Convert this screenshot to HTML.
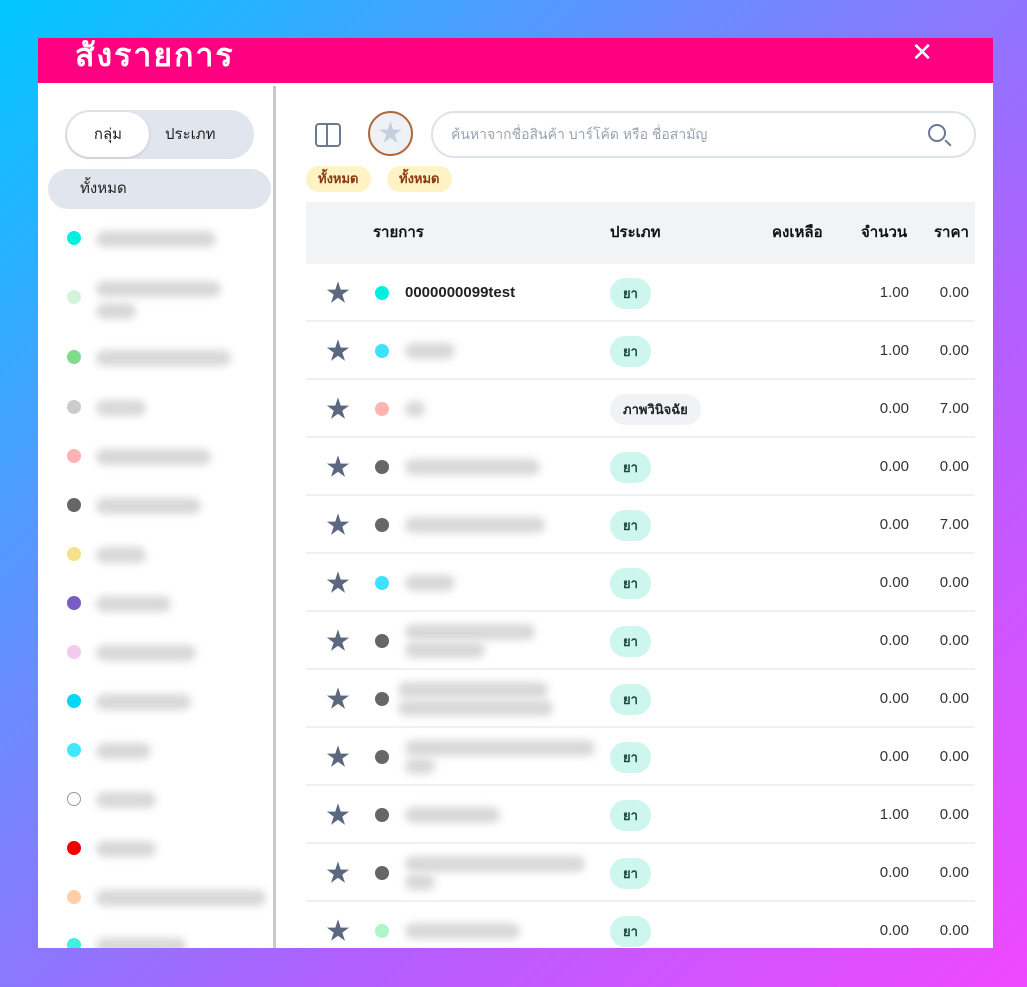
<!DOCTYPE html>
<html><head><meta charset="utf-8"><style>
*{margin:0;padding:0;box-sizing:border-box}
body{width:1027px;height:987px;overflow:hidden;position:relative;font-family:"Liberation Sans","Noto Sans CJK SC",sans-serif;background:linear-gradient(135deg,#00c8ff 0%,#6a8cff 35%,#b060ff 65%,#f048ff 100%)}
.panel{position:absolute;left:38px;top:38px;width:955px;height:910px;background:#fff;overflow:hidden}
.hdr{position:absolute;left:0;top:0;width:955px;height:45px;background:#ff0080}
.title{position:absolute;left:37px;top:-2px;color:#fff;font-size:32px;line-height:38px;letter-spacing:2px;font-weight:bold}
.x{position:absolute;right:60px;top:0;color:#fff;font-size:26px;line-height:28px}
.side{position:absolute;left:0;top:45px;width:235px;height:865px}
.div{position:absolute;left:235px;top:48px;width:3px;height:862px;background:#c8c8c8}
.tog{position:absolute;left:27px;top:27px;width:189px;height:49px;border-radius:25px;background:#e1e6ee}
.tog .a{position:absolute;left:2px;top:2px;width:82px;height:45px;border-radius:23px;background:#fff;box-shadow:0 1px 3px rgba(0,0,0,.15);text-align:center;line-height:45px;font-size:15px;color:#222}
.tog .b{position:absolute;left:100px;top:0;line-height:49px;font-size:15px;color:#222}
.all{position:absolute;left:10px;top:86px;width:223px;height:40px;border-radius:20px;background:#e1e6ee;font-size:15px;line-height:40px;padding-left:32px;color:#222}
.sd{position:absolute;left:29px;width:14px;height:14px;border-radius:50%}
.bl{position:absolute;height:16px;border-radius:8px;background:#d8d8d8;filter:blur(4px)}
.ico{position:absolute;left:277px;top:85px;width:26px;height:24px;border:2px solid #6b7a90;border-radius:4px}
.ico:after{content:"";position:absolute;left:9px;top:0;width:2px;height:20px;background:#6b7a90}
.star{position:absolute;left:330px;top:73px;width:45px;height:45px;border-radius:50%;border:2px solid #b0683a;background:#eef1f6;color:#c6cfdc;font-size:24px;text-align:center;line-height:41px}
.search{position:absolute;left:393px;top:73px;width:545px;height:47px;border:2px solid #dde3ec;border-radius:24px;font-size:14px;color:#9aa3b0;line-height:43px;padding-left:18px}
.mag{position:absolute;right:28px;top:11px;width:18px;height:18px;border:2px solid #6b7a90;border-radius:50%}
.mag:after{content:"";position:absolute;left:14px;top:16px;width:8px;height:2px;background:#6b7a90;transform:rotate(45deg)}
.chip{position:absolute;top:128px;height:26px;border-radius:13px;background:#fff2c4;color:#8a3a10;font-weight:bold;font-size:13px;line-height:26px;padding:0 12px}
.th{position:absolute;left:268px;top:164px;width:669px;height:62px;background:#f2f3f5;font-size:15px;color:#111;font-weight:bold}
.th span{position:absolute;top:0;line-height:62px}
.row{position:absolute;left:268px;width:669px;height:58px;border-bottom:2px solid #eef0f4}
.row .s{position:absolute;left:20px;top:9px;font-size:24px;color:#5b6880}
.row .d{position:absolute;left:69px;top:22px;width:14px;height:14px;border-radius:50%}
.row .t{position:absolute;left:304px;top:14px;height:31px;border-radius:15px;background:#cdf7ee;color:#1a4a40;font-size:13px;font-weight:bold;line-height:31px;padding:0 13px}
.row .q{position:absolute;right:66px;top:0;line-height:58px;font-size:15px;color:#333}
.row .p{position:absolute;right:6px;top:0;line-height:58px;font-size:15px;color:#333}
</style></head><body>
<div class="panel">
<div class="hdr"><div class="title">สั่งรายการ</div><div class="x">✕</div></div>
<div class="side">
<div class="tog"><div class="a">กลุ่ม</div><div class="b">ประเภท</div></div>
<div class="all">ทั้งหมด</div>
<div class="sd" style="top:148px;background:#00f0e0"></div><div class="bl" style="left:58px;top:148px;width:120px"></div>
<div class="sd" style="top:207px;background:#d0f5dc"></div><div class="bl" style="left:58px;top:198px;width:125px"></div><div class="bl" style="left:58px;top:220px;width:40px"></div>
<div class="sd" style="top:267px;background:#7ddc8a"></div><div class="bl" style="left:58px;top:267px;width:135px"></div>
<div class="sd" style="top:317px;background:#ccc"></div><div class="bl" style="left:58px;top:317px;width:50px"></div>
<div class="sd" style="top:366px;background:#ffb3b3"></div><div class="bl" style="left:58px;top:366px;width:115px"></div>
<div class="sd" style="top:415px;background:#666"></div><div class="bl" style="left:58px;top:415px;width:105px"></div>
<div class="sd" style="top:464px;background:#f7e08a"></div><div class="bl" style="left:58px;top:464px;width:50px"></div>
<div class="sd" style="top:513px;background:#7a5cc8"></div><div class="bl" style="left:58px;top:513px;width:75px"></div>
<div class="sd" style="top:562px;background:#f5c8f0"></div><div class="bl" style="left:58px;top:562px;width:100px"></div>
<div class="sd" style="top:611px;background:#00d8f5"></div><div class="bl" style="left:58px;top:611px;width:95px"></div>
<div class="sd" style="top:660px;background:#40e8ff"></div><div class="bl" style="left:58px;top:660px;width:55px"></div>
<div class="sd" style="top:709px;background:#fff;border:1px solid #999"></div><div class="bl" style="left:58px;top:709px;width:60px"></div>
<div class="sd" style="top:758px;background:#f00000"></div><div class="bl" style="left:58px;top:758px;width:60px"></div>
<div class="sd" style="top:807px;background:#ffd0a8"></div><div class="bl" style="left:58px;top:807px;width:170px"></div>
<div class="sd" style="top:855px;background:#40f0e0"></div><div class="bl" style="left:58px;top:855px;width:90px"></div>
</div>
<div class="div"></div>
<div class="ico"></div>
<div class="star">★</div>
<div class="search">ค้นหาจากชื่อสินค้า บาร์โค้ด หรือ ชื่อสามัญ<div class="mag"></div></div>
<div class="chip" style="left:268px">ทั้งหมด</div>
<div class="chip" style="left:349px">ทั้งหมด</div>
<div class="th"><span style="left:67px">รายการ</span><span style="left:304px">ประเภท</span><span style="left:466px">คงเหลือ</span><span style="left:555px">จำนวน</span><span style="left:628px">ราคา</span></div>
<div class="row" style="top:226px"><div class="s">★</div><div class="d" style="background:#00f0e0"></div><div style="position:absolute;left:99px;top:0;line-height:58px;font-size:15px;font-weight:bold;color:#222">0000000099test</div><div class="t">ยา</div><div class="q">1.00</div><div class="p">0.00</div></div>
<div class="row" style="top:284px"><div class="s">★</div><div class="d" style="background:#40e0ff"></div><div class="bl" style="left:99px;top:21px;width:50px"></div><div class="t">ยา</div><div class="q">1.00</div><div class="p">0.00</div></div>
<div class="row" style="top:342px"><div class="s">★</div><div class="d" style="background:#ffb3b3"></div><div class="bl" style="left:99px;top:21px;width:20px"></div><div class="t" style="background:#f0f2f6;color:#222">ภาพวินิจฉัย</div><div class="q">0.00</div><div class="p">7.00</div></div>
<div class="row" style="top:400px"><div class="s">★</div><div class="d" style="background:#666"></div><div class="bl" style="left:99px;top:21px;width:135px"></div><div class="t">ยา</div><div class="q">0.00</div><div class="p">0.00</div></div>
<div class="row" style="top:458px"><div class="s">★</div><div class="d" style="background:#666"></div><div class="bl" style="left:99px;top:21px;width:140px"></div><div class="t">ยา</div><div class="q">0.00</div><div class="p">7.00</div></div>
<div class="row" style="top:516px"><div class="s">★</div><div class="d" style="background:#40e0ff"></div><div class="bl" style="left:99px;top:21px;width:50px"></div><div class="t">ยา</div><div class="q">0.00</div><div class="p">0.00</div></div>
<div class="row" style="top:574px"><div class="s">★</div><div class="d" style="background:#666"></div><div class="bl" style="left:99px;top:12px;width:130px"></div><div class="bl" style="left:99px;top:30px;width:80px"></div><div class="t">ยา</div><div class="q">0.00</div><div class="p">0.00</div></div>
<div class="row" style="top:632px"><div class="s">★</div><div class="d" style="background:#666"></div><div class="bl" style="left:92px;top:12px;width:150px"></div><div class="bl" style="left:92px;top:30px;width:155px"></div><div class="t">ยา</div><div class="q">0.00</div><div class="p">0.00</div></div>
<div class="row" style="top:690px"><div class="s">★</div><div class="d" style="background:#666"></div><div class="bl" style="left:99px;top:12px;width:190px"></div><div class="bl" style="left:99px;top:30px;width:30px"></div><div class="t">ยา</div><div class="q">0.00</div><div class="p">0.00</div></div>
<div class="row" style="top:748px"><div class="s">★</div><div class="d" style="background:#666"></div><div class="bl" style="left:99px;top:21px;width:95px"></div><div class="t">ยา</div><div class="q">1.00</div><div class="p">0.00</div></div>
<div class="row" style="top:806px"><div class="s">★</div><div class="d" style="background:#666"></div><div class="bl" style="left:99px;top:12px;width:180px"></div><div class="bl" style="left:99px;top:30px;width:30px"></div><div class="t">ยา</div><div class="q">0.00</div><div class="p">0.00</div></div>
<div class="row" style="top:864px"><div class="s">★</div><div class="d" style="background:#b0f5c8"></div><div class="bl" style="left:99px;top:21px;width:115px"></div><div class="t">ยา</div><div class="q">0.00</div><div class="p">0.00</div></div>
</div>
</body></html>
